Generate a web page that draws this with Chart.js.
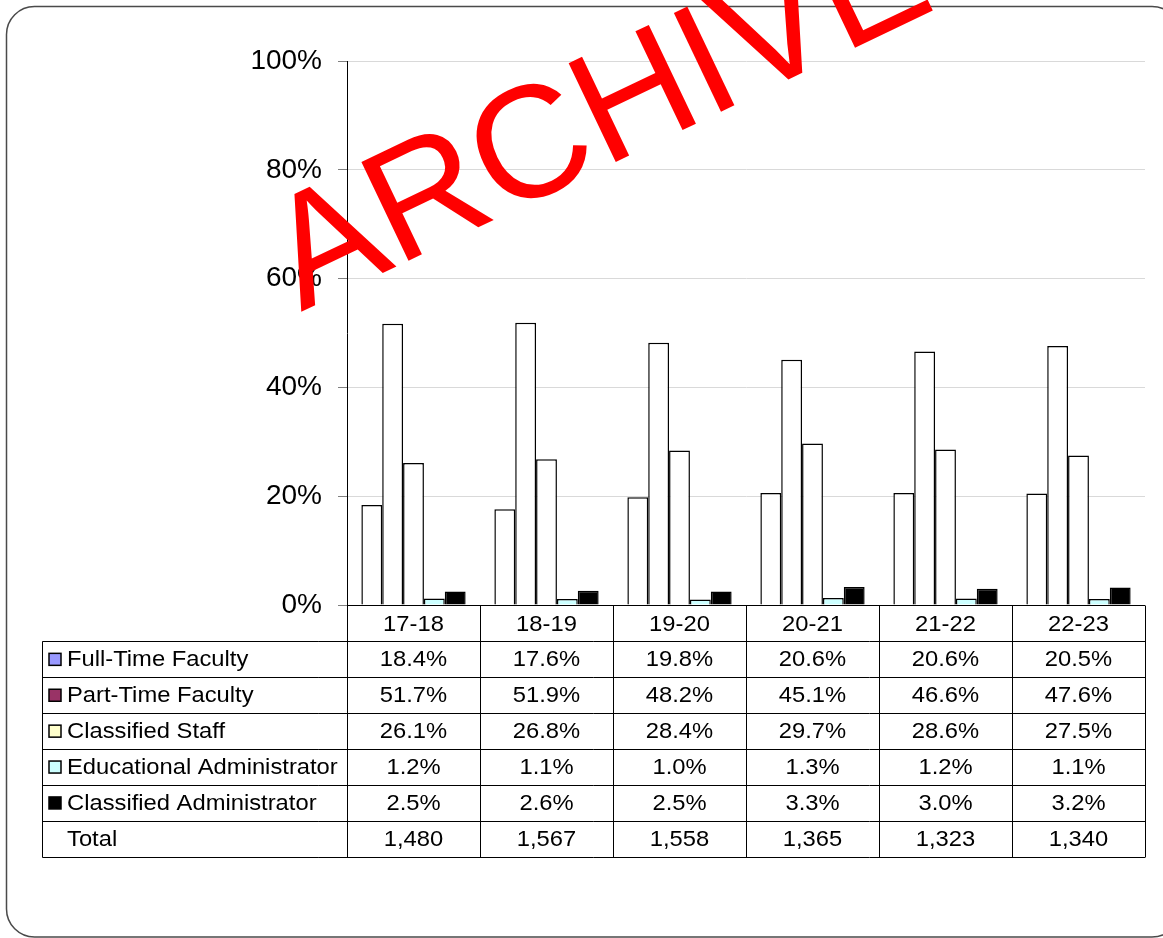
<!DOCTYPE html>
<html>
<head>
<meta charset="utf-8">
<script src="https://cdn.jsdelivr.net/npm/chart.js@4.4.0/dist/chart.umd.min.js"></script>
<style>
  body { margin: 0; background: #fff; }
  canvas { display: block; }
</style>
</head>
<body>
<canvas id="myChart" width="1163" height="938"></canvas>
<script>
// data
const years = ['17-18', '18-19', '19-20', '20-21', '21-22', '22-23'];
const seriesNames = [
    'Full-Time Faculty',
    'Part-Time Faculty',
    'Classified Staff',
    'Educational Administrator',
    'Classified Administrator',
];
const fullTime = [18.4, 17.6, 19.8, 20.6, 20.6, 20.5];
const partTime = [51.7, 51.9, 48.2, 45.1, 46.6, 47.6];
const classifiedStaff = [26.1, 26.8, 28.4, 29.7, 28.6, 27.5];
const eduAdmin = [1.2, 1.1, 1.0, 1.3, 1.2, 1.1];
const classifiedAdmin = [2.5, 2.6, 2.5, 3.3, 3.0, 3.2];
const totals = [1480, 1567, 1558, 1365, 1323, 1340];
const yTicks = [0, 20, 40, 60, 80, 100];
// data

const seriesValues = [fullTime, partTime, classifiedStaff, eduAdmin, classifiedAdmin];
const barColors = ['#ffffff', '#ffffff', '#ffffff', '#ccffff', '#000000'];
const keyColors = ['#9999ff', '#993366', '#ffffcc', '#ccffff', '#000000'];
const fontFamily = '"Liberation Sans", Arial, sans-serif';

// frame + table + watermark
function hline(ctx, x1, x2, y) {
    ctx.beginPath();
    ctx.moveTo(x1, y);
    ctx.lineTo(x2, y);
    ctx.stroke();
}
function vline(ctx, x, y1, y2) {
    ctx.beginPath();
    ctx.moveTo(x, y1);
    ctx.lineTo(x, y2);
    ctx.stroke();
}
function wideText(ctx, text, x, y, align) {
    ctx.save();
    ctx.translate(x, y);
    ctx.scale(1.08, 1);
    ctx.textAlign = align;
    ctx.fillText(text, 0, 0);
    ctx.restore();
}

const tablePlugin = {
    id: 'dataTable',
    beforeDraw(chart) {
        const ctx = chart.ctx;
        const l = 6.5, t = 6.5, r = 1180, b = 937, rad = 28;
        ctx.save();
        ctx.strokeStyle = '#4a4a4a';
        ctx.lineWidth = 1.5;
        ctx.beginPath();
        ctx.moveTo(l + rad, t);
        ctx.lineTo(r - rad, t);
        ctx.arcTo(r, t, r, t + rad, rad);
        ctx.lineTo(r, b - rad);
        ctx.arcTo(r, b, r - rad, b, rad);
        ctx.lineTo(l + rad, b);
        ctx.arcTo(l, b, l, b - rad, rad);
        ctx.lineTo(l, t + rad);
        ctx.arcTo(l, t, l + rad, t, rad);
        ctx.closePath();
        ctx.stroke();
        ctx.restore();
    },
    afterDraw(chart) {
        const ctx = chart.ctx;
        const area = chart.chartArea;
        const n = years.length;
        const cw = (area.right - area.left) / n;
        const top = Math.round(area.bottom) + 0.5;
        const rowH = 35.9;
        const tableLeft = 42.5;
        const rows = seriesNames.length + 1;
        const bottom = top + rowH * (rows + 1);

        ctx.save();
        ctx.strokeStyle = '#000';
        ctx.lineWidth = 1;
        hline(ctx, area.left, area.right, top);
        for (let r = 1; r <= rows + 1; r++) {
            const y = Math.round(top + r * rowH) + 0.5;
            hline(ctx, tableLeft, area.right, y);
        }
        for (let i = 0; i <= n; i++) {
            const x = Math.round(area.left + i * cw) + 0.5;
            vline(ctx, x, top, Math.round(bottom) + 0.5);
        }
        vline(ctx, tableLeft, top + rowH, Math.round(bottom) + 0.5);

        ctx.fillStyle = '#000';
        ctx.font = '22px ' + fontFamily;
        ctx.textBaseline = 'middle';
        // header
        years.forEach(function (yr, i) {
            wideText(ctx, yr, chart.scales.x.getPixelForValue(i), top + rowH / 2 + 1, 'center');
        });
        // series rows
        seriesNames.forEach(function (name, s) {
            const cy = top + rowH * (s + 1.5) + 1;
            ctx.fillStyle = keyColors[s];
            ctx.fillRect(49, cy - 7, 12, 12);
            ctx.strokeStyle = '#000';
            ctx.lineWidth = 1.5;
            ctx.strokeRect(49, cy - 7, 12, 12);
            ctx.fillStyle = '#000';
            wideText(ctx, name, 67, cy, 'left');
            seriesValues[s].forEach(function (v, i) {
                wideText(ctx, v.toFixed(1) + '%', chart.scales.x.getPixelForValue(i), cy, 'center');
            });
        });
        // total row
        const ty = top + rowH * (rows + 0.5) + 1;
        wideText(ctx, 'Total', 67, ty, 'left');
        totals.forEach(function (v, i) {
            wideText(ctx, v.toLocaleString('en-US'), chart.scales.x.getPixelForValue(i), ty, 'center');
        });
        ctx.restore();

        // watermark
        ctx.save();
        ctx.translate(301, 312);
        ctx.rotate(-25.5 * Math.PI / 180);
        ctx.font = '159px ' + fontFamily;
        ctx.fillStyle = '#ff0000';
        ctx.textBaseline = 'alphabetic';
        ctx.textAlign = 'left';
        ctx.fillText('ARCHIVE', 0, 0);
        ctx.restore();
    }
};

const ctx1 = document.getElementById('myChart').getContext('2d');
const config = {
    type: 'bar',
    data: {
        labels: years,
        datasets: seriesNames.map(function (name, s) {
            return {
                label: name,
                data: seriesValues[s],
                backgroundColor: barColors[s],
                borderColor: '#000',
                borderWidth: 1.5,
                borderSkipped: 'start',
                barPercentage: 1,
                categoryPercentage: 0.784
            };
        })
    },
    options: {
        responsive: false,
        devicePixelRatio: 1,
        animation: false,
        layout: { padding: { left: 0, right: 18, top: 61, bottom: 333 } },
        plugins: {
            legend: { display: false },
            tooltip: { enabled: false }
        },
        scales: {
            x: { display: false },
            y: {
                min: 0,
                max: 100,
                afterBuildTicks: function (scale) {
                    scale.ticks = yTicks.map(function (v) { return { value: v }; });
                },
                afterFit: function (scale) { scale.width = 347; },
                ticks: {
                    callback: function (v) { return v + '%'; },
                    color: '#000',
                    font: { family: fontFamily, size: 28 },
                    padding: 16
                },
                grid: { color: '#d9d9d9', tickColor: '#808080', tickLength: 9, lineWidth: 1 },
                border: { color: '#000', width: 1 }
            }
        }
    },
    plugins: [tablePlugin]
};
const myChart = new Chart(ctx1, config);
</script>
</body>
</html>
